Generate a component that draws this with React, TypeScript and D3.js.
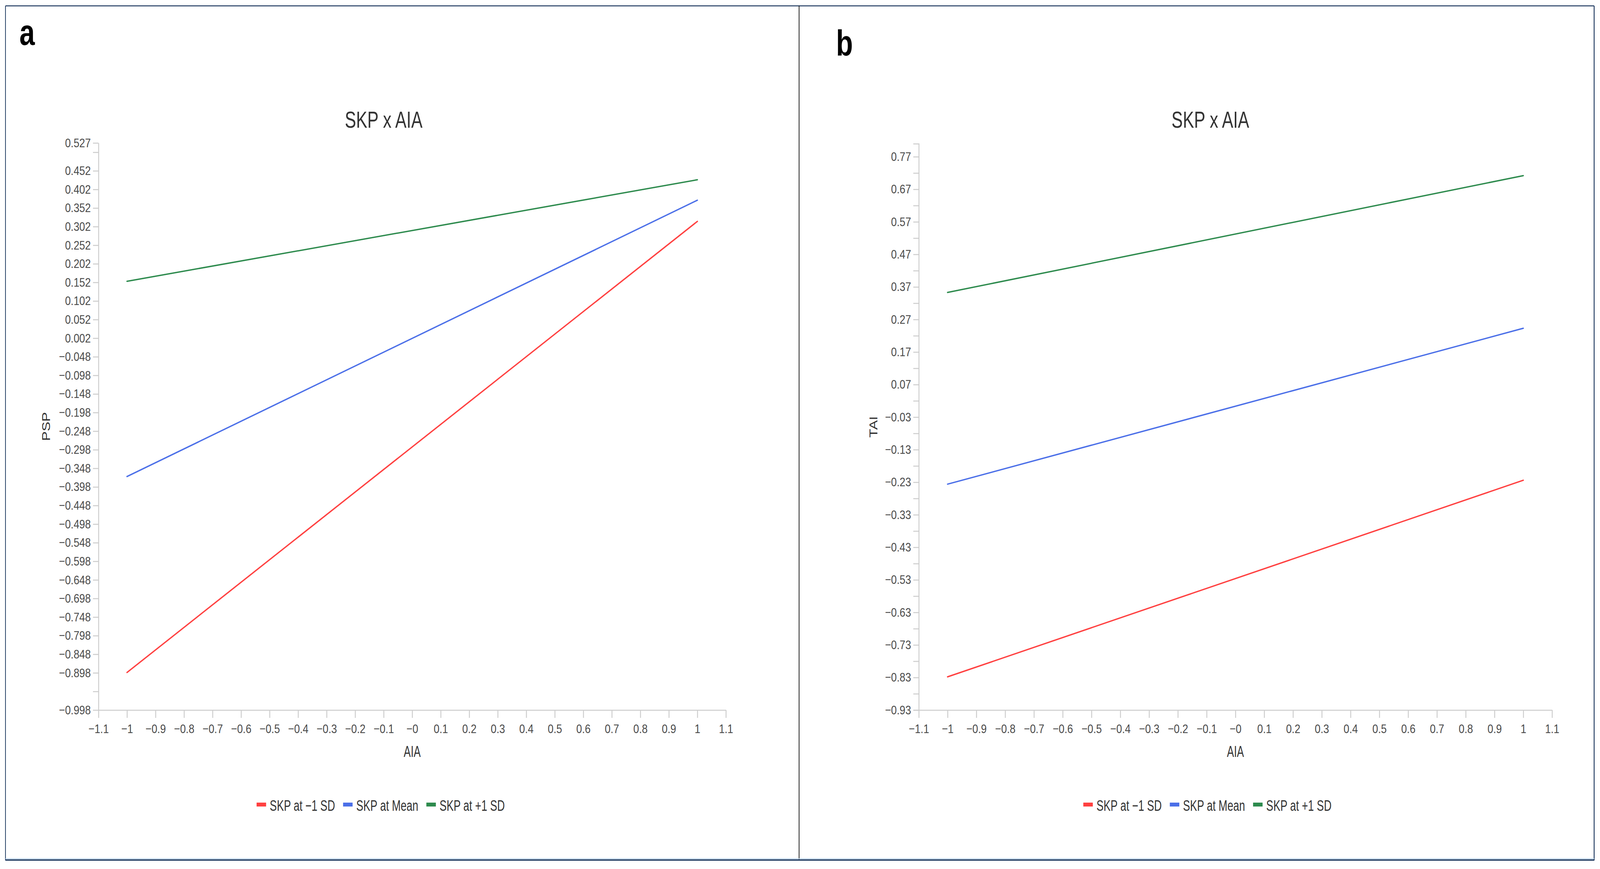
import React, { useEffect, useRef } from "react";
import * as d3 from "d3";

const W = 4371;
const H = 2225;
const FONT = "'Liberation Sans', Arial, Helvetica, sans-serif";

// ---------- data ----------
const seriesNames = ["SKP at \u22121 SD", "SKP at Mean", "SKP at +1 SD"];
const seriesColors = ["#ff4040", "#4b6fe8", "#2e8b4e"];
const xPoints = [-1, 1];

// Panel a (PSP)
const pspMinus1SD = [-0.897, 0.316];
const pspMean = [-0.37, 0.373];
const pspPlus1SD = [0.155, 0.428];

// Panel b (TAI)
const taiMinus1SD = [-0.828, -0.224];
const taiMean = [-0.236, 0.243];
const taiPlus1SD = [0.353, 0.712];

const xTickValues = [-1.1, -1, -0.9, -0.8, -0.7, -0.6, -0.5, -0.4, -0.3, -0.2, -0.1, 0, 0.1, 0.2, 0.3, 0.4, 0.5, 0.6, 0.7, 0.8, 0.9, 1, 1.1];
const xTickLabels = ["\u22121.1", "\u22121", "\u22120.9", "\u22120.8", "\u22120.7", "\u22120.6", "\u22120.5", "\u22120.4", "\u22120.3", "\u22120.2", "\u22120.1", "\u22120", "0.1", "0.2", "0.3", "0.4", "0.5", "0.6", "0.7", "0.8", "0.9", "1", "1.1"];

const yTickValuesA = [0.527, 0.502, 0.452, 0.402, 0.352, 0.302, 0.252, 0.202, 0.152, 0.102, 0.052, 0.002, -0.048, -0.098, -0.148, -0.198, -0.248, -0.298, -0.348, -0.398, -0.448, -0.498, -0.548, -0.598, -0.648, -0.698, -0.748, -0.798, -0.848, -0.898, -0.948, -0.998];
const yTickLabelsA = ["0.527", "", "0.452", "0.402", "0.352", "0.302", "0.252", "0.202", "0.152", "0.102", "0.052", "0.002", "\u22120.048", "\u22120.098", "\u22120.148", "\u22120.198", "\u22120.248", "\u22120.298", "\u22120.348", "\u22120.398", "\u22120.448", "\u22120.498", "\u22120.548", "\u22120.598", "\u22120.648", "\u22120.698", "\u22120.748", "\u22120.798", "\u22120.848", "\u22120.898", "", "\u22120.998"];

const yTickValuesB = [0.77, 0.72, 0.67, 0.62, 0.57, 0.52, 0.47, 0.42, 0.37, 0.32, 0.27, 0.22, 0.17, 0.12, 0.07, 0.02, -0.03, -0.08, -0.13, -0.18, -0.23, -0.28, -0.33, -0.38, -0.43, -0.48, -0.53, -0.58, -0.63, -0.68, -0.73, -0.78, -0.83, -0.88, -0.93];
const yTickLabelsB = ["0.77", "", "0.67", "", "0.57", "", "0.47", "", "0.37", "", "0.27", "", "0.17", "", "0.07", "", "\u22120.03", "", "\u22120.13", "", "\u22120.23", "", "\u22120.33", "", "\u22120.43", "", "\u22120.53", "", "\u22120.63", "", "\u22120.73", "", "\u22120.83", "", "\u22120.93"];

// ---------- layout ----------
interface Panel {
  letter: string;
  letterX: number;
  letterY: number;
  left: number;
  right: number;
  top: number;
  bottom: number;
  yDomain: [number, number];
  yTicks: number[];
  yLabels: string[];
  outerTick: number;
  yTitle: string;
  yTitleX: number;
  series: number[][];
}

const panels: Panel[] = [
  {
    letter: "a", letterX: 53, letterY: 115,
    left: 269, right: 1983, top: 366, bottom: 1818,
    yDomain: [-0.998, 0.527], yTicks: yTickValuesA, yLabels: yTickLabelsA, outerTick: 0,
    yTitle: "PSP", yTitleX: 137,
    series: [pspMinus1SD, pspMean, pspPlus1SD],
  },
  {
    letter: "b", letterX: 2284, letterY: 142,
    left: 2510, right: 4240, top: 368, bottom: 1818,
    yDomain: [-0.93, 0.81], yTicks: yTickValuesB, yLabels: yTickLabelsB, outerTick: 15,
    yTitle: "TAI", yTitleX: 2397,
    series: [taiMinus1SD, taiMean, taiPlus1SD],
  },
];

const TICK_S = 0.88;
const AXIS_COLOR = "#cccccc";
const TICK_TEXT = "#4a4a4a";

function drawPanel(svg: d3.Selection<SVGSVGElement, unknown, null, undefined>, p: Panel) {
  const x = d3.scaleLinear().domain([-1.1, 1.1]).range([p.left, p.right]);
  const y = d3.scaleLinear().domain(p.yDomain).range([p.bottom, p.top]);

  svg.append("text")
    .attr("transform", `translate(${p.letterX},${p.letterY}) scale(0.82,1)`)
    .attr("font-family", FONT).attr("font-weight", "bold").attr("font-size", 92)
    .attr("fill", "#000").text(p.letter);

  const yAxis = d3.axisLeft(y)
    .tickValues(p.yTicks)
    .tickFormat((d) => p.yLabels[p.yTicks.indexOf(d as number)])
    .tickSize(15).tickSizeOuter(p.outerTick).tickPadding(6);
  const ya = svg.append("g").attr("transform", `translate(${p.left},0)`).call(yAxis);
  ya.attr("font-size", 32).attr("font-family", FONT);
  ya.select(".domain").attr("stroke", AXIS_COLOR).attr("stroke-width", 2.5);
  ya.selectAll(".tick line").attr("stroke", AXIS_COLOR).attr("stroke-width", 2.5);
  ya.selectAll(".tick text").attr("fill", TICK_TEXT)
    .attr("x", -21 / TICK_S).attr("transform", `scale(${TICK_S},1)`);

  const xAxis = d3.axisBottom(x)
    .tickValues(xTickValues)
    .tickFormat((d) => xTickLabels[xTickValues.indexOf(d as number)])
    .tickSize(20).tickSizeOuter(0).tickPadding(16);
  const xa = svg.append("g").attr("transform", `translate(0,${p.bottom})`).call(xAxis);
  xa.attr("font-size", 32).attr("font-family", FONT);
  xa.select(".domain").attr("stroke", AXIS_COLOR).attr("stroke-width", 2.5);
  xa.selectAll(".tick line").attr("stroke", AXIS_COLOR).attr("stroke-width", 2.5);
  xa.selectAll(".tick text").attr("fill", TICK_TEXT).attr("transform", `scale(${TICK_S},1)`);

  const line = d3.line<[number, number]>().x((d) => x(d[0])).y((d) => y(d[1]));
  p.series.forEach((vals, i) => {
    const pts: [number, number][] = xPoints.map((xv, j) => [xv, vals[j]]);
    svg.append("path").datum(pts)
      .attr("d", line).attr("fill", "none")
      .attr("stroke", seriesColors[i]).attr("stroke-width", 3.5)
      .attr("stroke-linecap", "round");
  });

  svg.append("text")
    .attr("transform", `translate(${p.yTitleX},${(p.top + p.bottom) / 2}) scale(0.85,1) rotate(-90)`)
    .attr("text-anchor", "middle").attr("font-family", FONT).attr("font-size", 37)
    .attr("fill", "#333").text(p.yTitle);

  svg.append("text")
    .attr("transform", `translate(${x(0)},1938) scale(0.7,1)`)
    .attr("text-anchor", "middle").attr("font-family", FONT).attr("font-size", 41)
    .attr("fill", "#333").text("AIA");

  const groupCenter = (p.yTitleX - 24 + p.right) / 2;
  svg.append("text")
    .attr("transform", `translate(${groupCenter},327) scale(0.77,1)`)
    .attr("text-anchor", "middle").attr("font-family", FONT).attr("font-size", 60)
    .attr("fill", "#333").text("SKP x AIA");

  const LS = 0.74;
  const lg = svg.append("g");
  let cx = 0;
  seriesNames.forEach((name, i) => {
    const item = lg.append("g").attr("transform", `translate(${cx},0)`);
    item.append("rect").attr("x", 0).attr("y", -5).attr("width", 26).attr("height", 10)
      .attr("fill", seriesColors[i]);
    const t = item.append("text")
      .attr("transform", `translate(36,16) scale(${LS},1)`)
      .attr("font-family", FONT).attr("font-size", 39).attr("fill", "#333").text(name);
    const w = (t.node() as SVGTextElement).getComputedTextLength() * LS;
    cx += 36 + w + 22;
  });
  const total = cx - 22;
  lg.attr("transform", `translate(${groupCenter - 8 - total / 2},2060)`);
}

export default function App() {
  const ref = useRef<SVGSVGElement>(null);
  useEffect(() => {
    if (!ref.current) return;
    const svg = d3.select(ref.current);
    svg.selectAll("*").remove();
    svg.append("rect").attr("width", W).attr("height", H).attr("fill", "#ffffff");

    panels.forEach((p) => drawPanel(svg, p));

    const navy = "#1f3a60";
    svg.append("line").attr("x1", 15).attr("x2", 4355).attr("y1", 15).attr("y2", 15)
      .attr("stroke", navy).attr("stroke-width", 2.5);
    svg.append("line").attr("x1", 15).attr("x2", 15).attr("y1", 15).attr("y2", 2203)
      .attr("stroke", navy).attr("stroke-width", 2);
    svg.append("line").attr("x1", 4355).attr("x2", 4355).attr("y1", 15).attr("y2", 2203)
      .attr("stroke", navy).attr("stroke-width", 2.5);
    svg.append("line").attr("x1", 2183).attr("x2", 2183).attr("y1", 15).attr("y2", 2203)
      .attr("stroke", "#111").attr("stroke-width", 2);
    svg.append("line").attr("x1", 15).attr("x2", 4355).attr("y1", 2198.5).attr("y2", 2198.5)
      .attr("stroke", "#bcd6ec").attr("stroke-width", 2);
    svg.append("line").attr("x1", 15).attr("x2", 4355).attr("y1", 2202).attr("y2", 2202)
      .attr("stroke", navy).attr("stroke-width", 3.5);
  }, []);

  return (
    <div>
      <style>{"html,body{margin:0;padding:0;background:#fff;overflow:hidden}"}</style>
      <svg
        ref={ref}
        viewBox={`0 0 ${W} ${H}`}
        preserveAspectRatio="none"
        style={{ display: "block", width: "100vw", height: "100vh" }}
      />
    </div>
  );
}
